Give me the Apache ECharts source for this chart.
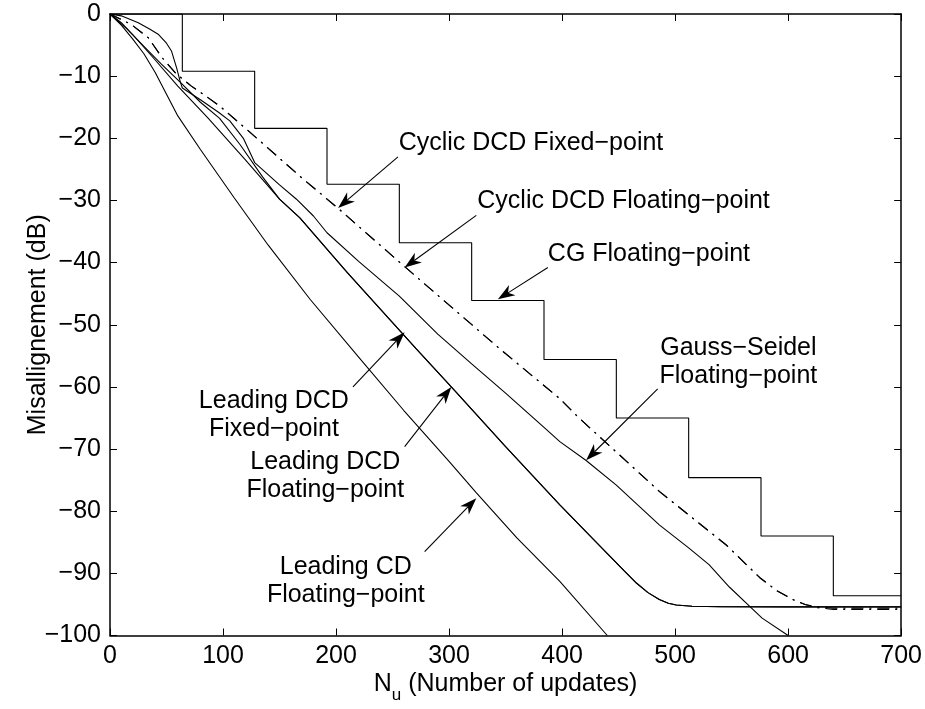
<!DOCTYPE html>
<html>
<head>
<meta charset="utf-8">
<script src="https://cdn.jsdelivr.net/npm/echarts@6/dist/echarts.min.js"></script>
<style>
  html, body { margin: 0; padding: 0; background: #fff; }
  #chart { width: 925px; height: 709px; }
</style>
</head>
<body>
<div id="chart"></div>
<script>
// Misalignment (dB) versus number of updates N_u for the different solvers.

// Leading CD, floating-point
const leadCdX = [0, 10, 20, 30, 40, 50, 60, 80, 110, 140, 177, 220, 260, 300, 324, 360, 398, 440];
const leadCdY = [0, -1.8, -4.0, -6.4, -9.4, -12.9, -16.4, -21.8, -29.6, -37.2, -45.9, -55.2, -63.8, -72.0, -77.0, -84.3, -91.3, -100];

// Leading DCD, floating-point
const leadDcdFlX = [0, 10, 20, 40, 60, 87, 120, 150, 168, 210, 271, 303, 350, 398, 442, 455, 466, 476, 486, 494, 501, 515, 540, 600, 700];
const leadDcdFlY = [0, -1.4, -3.3, -7.4, -11.6, -16.8, -23.5, -29.8, -32.8, -41.6, -53.9, -60.2, -69.6, -79.0, -87.2, -89.6, -91.6, -93.1, -94.2, -94.8, -95.1, -95.3, -95.35, -95.4, -95.4];

// Leading DCD, fixed-point
const leadDcdFxX = [0, 15, 30, 45, 60, 80, 97, 115, 135, 150, 168, 210, 271, 303, 350, 398, 442, 455, 466, 476, 486, 494, 501, 515, 540, 600, 700];
const leadDcdFxY = [0, -2.4, -5.2, -8.0, -10.6, -14.2, -16.8, -21.0, -26.2, -29.8, -32.8, -41.6, -53.9, -60.2, -69.6, -79.0, -87.2, -89.6, -91.6, -93.1, -94.2, -94.8, -95.1, -95.3, -95.35, -95.4, -95.4];

// Gauss-Seidel, floating-point
const gaussX = [0, 10, 25, 35, 43, 50, 54.5, 59, 62, 64, 80, 96, 106, 118, 128, 150, 165, 180, 192, 220, 256, 290, 320, 350, 384, 398, 421, 448, 486, 512, 530, 548, 566, 577, 600];
const gaussY = [0, -0.3, -1.4, -2.4, -3.3, -4.7, -6.0, -8.7, -10.8, -11.9, -13.8, -15.8, -17.2, -20.0, -23.9, -27.5, -29.8, -32.5, -35.2, -39.8, -45.4, -51.5, -56.3, -61.0, -66.5, -68.8, -71.8, -75.8, -82.2, -85.9, -88.6, -92.2, -95.3, -97.2, -100];

// Cyclic DCD, fixed-point
const cycFxX = [0, 19, 34, 46, 59, 72, 87, 97, 130, 168, 202, 261, 345, 398, 415, 486, 545, 575, 590, 604, 615, 625, 640, 700];
const cycFxY = [0, -1.7, -3.85, -7.0, -9.7, -11.6, -13.5, -14.8, -20.0, -26.1, -31.3, -40.7, -53.9, -61.9, -65.0, -76.8, -85.4, -90.7, -92.8, -94.2, -95.0, -95.4, -95.6, -95.6];

// Cyclic DCD, floating-point
const cycFlX = [0, 19, 34, 46, 59, 72, 87, 97, 130, 168, 202, 261, 345, 398, 415, 486, 545, 575, 590, 604, 615, 625, 640, 700];
const cycFlY = [0, -1.7, -3.85, -7.0, -9.7, -11.6, -13.5, -14.8, -20.0, -26.1, -31.3, -40.7, -53.9, -61.9, -65.0, -76.8, -85.4, -90.7, -92.8, -94.2, -95.0, -95.5, -95.8, -95.8];

// CG, floating-point (one level per block of 64 updates)
const cgX = [0, 64, 128, 192, 256, 320, 384, 448, 512, 576, 640, 700];
const cgY = [0, -9.2, -18.4, -27.4, -36.8, -46.1, -55.6, -65.0, -74.6, -84.0, -93.6, -93.6];

// Axis ranges
const xMin = 0, xMax = 700, xStep = 100;
const yMin = -100, yMax = 0, yStep = 10;

// Annotation texts and their anchors / arrows in data coordinates
const noteText = [
  'Cyclic DCD Fixed\u2212point',
  'Cyclic DCD Floating\u2212point',
  'CG Floating\u2212point',
  'Gauss\u2212Seidel\nFloating\u2212point',
  'Leading DCD\nFixed\u2212point',
  'Leading DCD\nFloating\u2212point',
  'Leading CD\nFloating\u2212point'
];
const noteAnchor = [
  [255.4, -20.7, 'left'],
  [325.0, -30.1, 'left'],
  [387.4, -38.6, 'left'],
  [556.0, -56.0, 'center'],
  [145.0, -64.6, 'center'],
  [190.5, -74.3, 'center'],
  [208.6, -91.2, 'center']
];
const noteArrow = [
  [254.8, -23.0, 201.8, -31.2],
  [324.1, -32.4, 260.7, -40.8],
  [387.4, -40.8, 343.2, -45.9],
  [484.6, -60.3, 421.3, -71.8],
  [215.0, -60.0, 260.7, -51.2],
  [260.7, -69.6, 302.0, -60.0],
  [278.4, -86.5, 324.1, -77.9]
];

const FONT = '"Liberation Sans", Arial, Helvetica, sans-serif';
const FS = 25;

const zip = (xs, ys) => xs.map((x, i) => [x, ys[i]]);
const fmtY = v => (v < 0 ? '\u2212' + (-v) : String(v));

const curveStyle = { color: '#000', width: 1.1 };
function curve(name, xs, ys, extra) {
  return Object.assign({
    name, type: 'line', data: zip(xs, ys),
    showSymbol: false, symbol: 'none', smooth: false,
    lineStyle: Object.assign({}, curveStyle),
    itemStyle: { color: '#000' },
    silent: true, animation: false, z: 3
  }, extra || {});
}

const axisLine = { show: true, onZero: false, lineStyle: { color: '#000', width: 1.5 } };
const tickIn = { show: true, inside: true, length: 7, lineStyle: { color: '#000', width: 1 } };

const option = {
  backgroundColor: '#fff',
  animation: false,
  grid: { left: 110, right: 23, top: 14, bottom: 71, containLabel: false },
  xAxis: [
    {
      type: 'value', min: xMin, max: xMax, interval: xStep, position: 'bottom',
      axisLine, axisTick: tickIn, splitLine: { show: false },
      axisLabel: { color: '#000', fontSize: FS, fontFamily: FONT, margin: 8 },
      name: '{a|N}{s|u}{a| (Number of updates)}',
      nameLocation: 'middle', nameGap: 35, nameMoveOverlap: false,
      nameTextStyle: {
        color: '#000', fontFamily: FONT, fontSize: FS,
        rich: {
          a: { fontSize: FS, fontFamily: FONT, color: '#000', lineHeight: 28 },
          s: { fontSize: 17, fontFamily: FONT, color: '#000', padding: [22, 0, 0, 0], lineHeight: 28 }
        }
      }
    },
    {
      type: 'value', min: xMin, max: xMax, interval: xStep, position: 'top',
      axisLine, axisTick: tickIn, axisLabel: { show: false }, splitLine: { show: false }
    }
  ],
  yAxis: [
    {
      type: 'value', min: yMin, max: yMax, interval: yStep, position: 'left',
      axisLine, axisTick: tickIn, splitLine: { show: false },
      axisLabel: { color: '#000', fontSize: FS, fontFamily: FONT, margin: 9, formatter: fmtY },
      name: 'Misallignement (dB)', nameLocation: 'middle', nameGap: 59, nameMoveOverlap: false,
      nameTextStyle: { color: '#000', fontSize: FS, fontFamily: FONT }
    },
    {
      type: 'value', min: yMin, max: yMax, interval: yStep, position: 'right',
      axisLine, axisTick: tickIn, axisLabel: { show: false }, splitLine: { show: false }
    }
  ],
  series: [
    curve('Leading CD Floating\u2212point', leadCdX, leadCdY),
    curve('Leading DCD Fixed\u2212point', leadDcdFxX, leadDcdFxY),
    curve('Leading DCD Floating\u2212point', leadDcdFlX, leadDcdFlY),
    curve('Gauss\u2212Seidel Floating\u2212point', gaussX, gaussY),
    curve('CG Floating\u2212point', cgX, cgY, { step: 'end' }),
    curve('Cyclic DCD Floating\u2212point', cycFlX, cycFlY, {
      lineStyle: { color: '#000', width: 1.1, type: [12, 6, 2, 6] }, z: 4
    }),
    curve('Cyclic DCD Fixed\u2212point', cycFxX, cycFxY, {
      lineStyle: { color: '#000', width: 1.1, type: [12, 6, 2, 6] }, z: 4
    }),
    {
      name: 'arrows', type: 'custom', data: noteArrow, silent: true, animation: false, z: 5,
      encode: { x: [0, 2], y: [1, 3] },
      renderItem(params, api) {
        const p1 = api.coord([api.value(0), api.value(1)]);
        const p2 = api.coord([api.value(2), api.value(3)]);
        const dx = p2[0] - p1[0], dy = p2[1] - p1[1];
        const len = Math.hypot(dx, dy);
        const ux = dx / len, uy = dy / len, nx = -uy, ny = ux;
        const L = 17, W = 6, N = 12;
        const back = [p2[0] - ux * L, p2[1] - uy * L];
        const notch = [p2[0] - ux * N, p2[1] - uy * N];
        return {
          type: 'group',
          children: [
            { type: 'line', shape: { x1: p1[0], y1: p1[1], x2: notch[0], y2: notch[1] },
              style: { stroke: '#000', lineWidth: 1.1 } },
            { type: 'polygon',
              shape: { points: [p2, [back[0] + nx * W, back[1] + ny * W], notch, [back[0] - nx * W, back[1] - ny * W]] },
              style: { fill: '#000' } }
          ]
        };
      }
    },
    {
      name: 'notes', type: 'custom', data: noteAnchor.map(a => [a[0], a[1]]),
      silent: true, animation: false, z: 6,
      encode: { x: 0, y: 1 },
      renderItem(params, api) {
        const p = api.coord([api.value(0), api.value(1)]);
        const i = params.dataIndex;
        return {
          type: 'text', x: p[0], y: p[1],
          style: {
            text: noteText[i], fill: '#000', fontSize: FS, fontFamily: FONT,
            align: noteAnchor[i][2], verticalAlign: 'middle', lineHeight: 28
          }
        };
      }
    }
  ]
};

const chart = echarts.init(document.getElementById('chart'), null, { renderer: 'canvas' });
chart.setOption(option);
</script>
</body>
</html>
